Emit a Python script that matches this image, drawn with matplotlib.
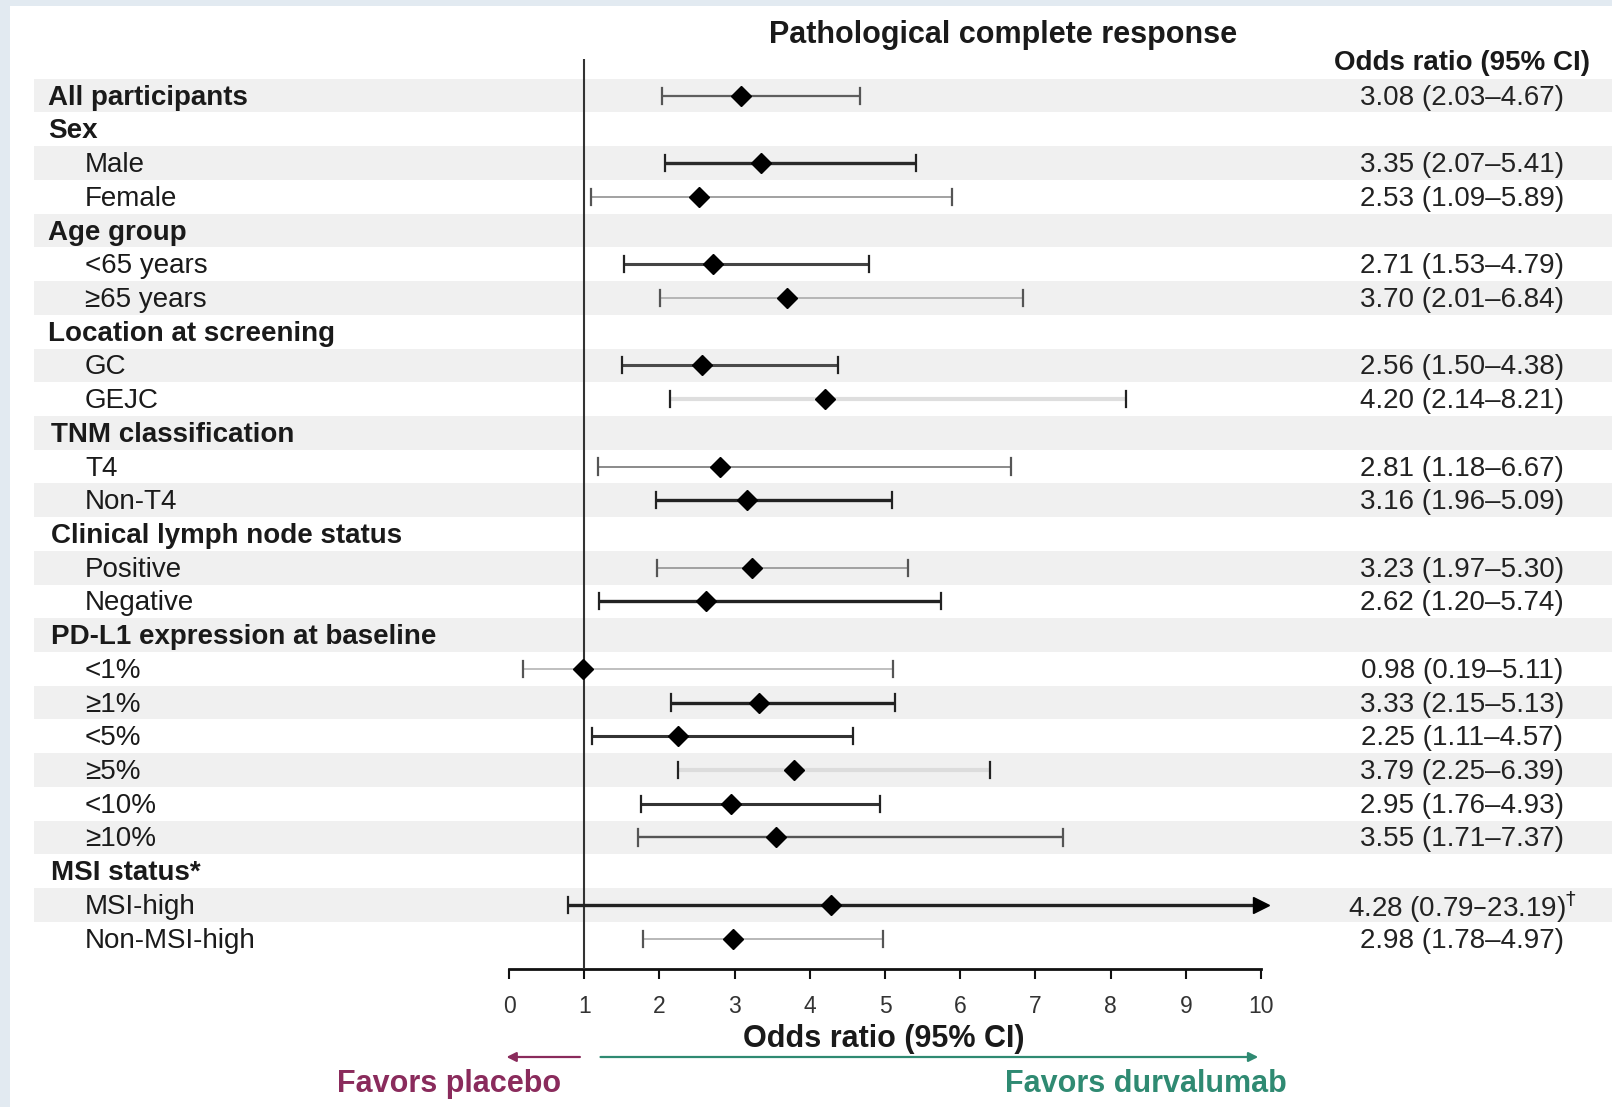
import numpy as np
import matplotlib
matplotlib.use("Agg")
import matplotlib.pyplot as plt
from matplotlib.patches import Rectangle
from matplotlib.transforms import blended_transform_factory

# ---------------- data ----------------
row_labels = ["All participants", "Sex", "Male", "Female", "Age group", "<65 years", "\u226565 years",
              "Location at screening", "GC", "GEJC", "TNM classification", "T4", "Non-T4",
              "Clinical lymph node status", "Positive", "Negative", "PD-L1 expression at baseline",
              "<1%", "\u22651%", "<5%", "\u22655%", "<10%", "\u226510%", "MSI status*", "MSI-high",
              "Non-MSI-high"]
row_bold = [True, True, False, False, True, False, False, True, False, False, True, False, False,
            True, False, False, True, False, False, False, False, False, False, True, False, False]
odds_ratio = [3.08, None, 3.35, 2.53, None, 2.71, 3.70, None, 2.56, 4.20, None, 2.81, 3.16,
              None, 3.23, 2.62, None, 0.98, 3.33, 2.25, 3.79, 2.95, 3.55, None, 4.28, 2.98]
ci_low = [2.03, None, 2.07, 1.09, None, 1.53, 2.01, None, 1.50, 2.14, None, 1.18, 1.96,
          None, 1.97, 1.20, None, 0.19, 2.15, 1.11, 2.25, 1.76, 1.71, None, 0.79, 1.78]
ci_high = [4.67, None, 5.41, 5.89, None, 4.79, 6.84, None, 4.38, 8.21, None, 6.67, 5.09,
           None, 5.30, 5.74, None, 5.11, 5.13, 4.57, 6.39, 4.93, 7.37, None, 23.19, 4.97]
value_labels = ["3.08 (2.03\u20134.67)", "", "3.35 (2.07\u20135.41)", "2.53 (1.09\u20135.89)", "",
                "2.71 (1.53\u20134.79)", "3.70 (2.01\u20136.84)", "", "2.56 (1.50\u20134.38)",
                "4.20 (2.14\u20138.21)", "", "2.81 (1.18\u20136.67)", "3.16 (1.96\u20135.09)", "",
                "3.23 (1.97\u20135.30)", "2.62 (1.20\u20135.74)", "", "0.98 (0.19\u20135.11)",
                "3.33 (2.15\u20135.13)", "2.25 (1.11\u20134.57)", "3.79 (2.25\u20136.39)",
                "2.95 (1.76\u20134.93)", "3.55 (1.71\u20137.37)", "",
                "4.28 (0.79\u201323.19)$^{\\dagger}$", "2.98 (1.78\u20134.97)"]
x_ticks = [0, 1, 2, 3, 4, 5, 6, 7, 8, 9, 10]

# line style per row (color, width) -- styling only
line_styles = {0: ("#5e5e5e", 1.6), 2: ("#2a2a2a", 2.4), 3: ("#9a9a9a", 1.3), 5: ("#444444", 2.2),
               6: ("#b0b0b0", 1.3), 8: ("#4a4a4a", 2.2), 9: ("#dedede", 3.0), 11: ("#8a8a8a", 1.4),
               12: ("#222222", 2.4), 14: ("#a0a0a0", 1.4), 15: ("#222222", 2.4), 17: ("#b4b4b4", 1.2),
               18: ("#222222", 2.4), 19: ("#333333", 2.2), 20: ("#dcdcdc", 3.0), 21: ("#333333", 2.2),
               22: ("#555555", 1.7), 24: ("#222222", 2.4), 25: ("#b8b8b8", 1.4)}
# header indent (pixels) -- styling only
header_x = {10: 51, 13: 51, 16: 51, 23: 51}

plt.rcParams['font.family'] = ['Liberation Sans', 'DejaVu Sans']
W, H = 1612, 1107
fig = plt.figure(figsize=(W / 100, H / 100), dpi=100)
fig.patch.set_facecolor("#e2eaf1")
fig.patches.append(Rectangle((10 / W, 0), 1 - 10 / W, 1 - 6 / H, transform=fig.transFigure,
                             facecolor="white", edgecolor="none", zorder=-10))

def fx(px):
    return px / W

def fy(py):
    return 1 - py / H

x0_px, x10_px = 509, 1261
top_px, axis_px = 59, 969
row0_px, row_step = 95.6, 33.72
n = len(row_labels)
ylo = (axis_px - row0_px) / row_step
yhi = (top_px - row0_px) / row_step

ax = fig.add_axes([fx(x0_px), fy(axis_px), (x10_px - x0_px) / W, (axis_px - top_px) / H])
ax.set_xlim(0, 10)
ax.set_ylim(ylo, yhi)
ax.patch.set_alpha(0)
for s in ["top", "right", "left"]:
    ax.spines[s].set_visible(False)
ax.spines["bottom"].set_linewidth(2.0)
ax.spines["bottom"].set_color("#111111")
ax.set_yticks([])
ax.set_xticks(x_ticks)
ax.set_xticklabels([str(t) for t in x_ticks], fontsize=16.5, color="#333333")
ax.tick_params(axis="x", length=7, width=1.5, pad=12, colors="#111111", labelcolor="#333333")

bt = blended_transform_factory(fig.transFigure, ax.transData)

# shaded bands
for i in range(n):
    if i % 2 == 0:
        ax.add_patch(Rectangle((fx(34), i - 0.5), 1 - fx(34), 1.0, transform=bt,
                               facecolor="#f0f0f0", edgecolor="none", zorder=0, clip_on=False))

# reference line at 1
ax.axvline(1, color="#333333", lw=1.5, zorder=3)

cap = 0.24
tdy = 0.06
for i in range(n):
    lab = row_labels[i]
    xpos = fx(header_x.get(i, 48)) if row_bold[i] else fx(85)
    ax.text(xpos, i + tdy, lab, transform=bt, ha="left", va="center", fontsize=20,
            fontweight="bold" if row_bold[i] else "normal", color="#1a1a1a", clip_on=False)
    if value_labels[i]:
        ax.text(fx(1462), i + tdy, value_labels[i], transform=bt, ha="center", va="center",
                fontsize=20, color="#222222", clip_on=False)
    if odds_ratio[i] is None:
        continue
    col, lw = line_styles[i]
    lo, hi = ci_low[i], ci_high[i]
    hi_draw = min(hi, 10)
    ax.plot([lo, hi_draw], [i, i], color=col, lw=lw, zorder=4, solid_capstyle="butt")
    capcol = "#222222" if lw >= 2 else "#555555"
    ax.plot([lo, lo], [i - cap, i + cap], color=capcol, lw=1.6, zorder=4)
    if hi > 10:
        ax.plot([10], [i], marker=">", color="black", ms=12, zorder=5, clip_on=False)
    else:
        ax.plot([hi, hi], [i - cap, i + cap], color=capcol, lw=1.6, zorder=4)
    ax.plot([odds_ratio[i]], [i], marker="D", color="black", ms=10, zorder=6, clip_on=False)

# titles
fig.text(fx(1003), fy(35), "Pathological complete response", ha="center", va="center",
         fontsize=22, fontweight="bold", color="#1a1a1a")
fig.text(fx(1462), fy(63), "Odds ratio (95% CI)", ha="center", va="center",
         fontsize=20, fontweight="bold", color="#1a1a1a")
fig.text(fx(884), fy(1039), "Odds ratio (95% CI)", ha="center", va="center",
         fontsize=22, fontweight="bold", color="#1a1a1a")

# favors arrows
purple, green = "#8a2b5c", "#2f8a72"
ax.annotate("", xy=(-0.07, fy(1057)), xytext=(0.98, fy(1057)),
            xycoords=("data", "figure fraction"), textcoords=("data", "figure fraction"),
            arrowprops=dict(arrowstyle="-|>", color=purple, lw=1.6, mutation_scale=14))
ax.annotate("", xy=(10.0, fy(1057)), xytext=(1.18, fy(1057)),
            xycoords=("data", "figure fraction"), textcoords=("data", "figure fraction"),
            arrowprops=dict(arrowstyle="-|>", color=green, lw=1.6, mutation_scale=14))
fig.text(fx(449), fy(1084), "Favors placebo", ha="center", va="center", fontsize=22,
         fontweight="bold", color=purple)
fig.text(fx(1146), fy(1084), "Favors durvalumab", ha="center", va="center", fontsize=22,
         fontweight="bold", color=green)

fig.savefig("out.png", dpi=100)
